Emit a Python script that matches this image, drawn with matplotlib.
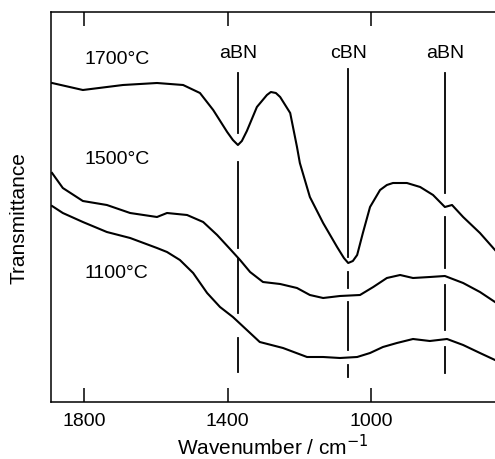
import matplotlib
matplotlib.use("Agg")
import matplotlib.pyplot as plt

plt.rcParams['font.family'] = ['Liberation Sans', 'DejaVu Sans']

# IR spectra of BN films, transmittance in arbitrary units
wn_1700 = [1890, 1804, 1692, 1597, 1524, 1477, 1440, 1401, 1385, 1371, 1360, 1346,
           1318, 1290, 1279, 1265, 1253, 1225, 1206, 1198, 1170, 1133, 1094, 1075,
           1063, 1050, 1038, 1022, 1002, 974, 955, 938, 899, 862, 826, 793, 773,
           742, 695, 653]
t_1700 = [319, 312, 317, 319, 317, 309, 292, 270, 262, 257, 261, 271,
          295, 307, 310, 309, 305, 289, 255, 239, 205, 179, 155, 144,
          139, 141, 147, 169, 195, 212, 217, 219, 219, 215, 207, 195, 197,
          185, 169, 152]

wn_1500 = [1890, 1860, 1804, 1737, 1672, 1597, 1569, 1513, 1468, 1429, 1393, 1365,
           1337, 1301, 1253, 1206, 1170, 1133, 1086, 1030, 993, 955, 918, 882,
           835, 793, 742, 695, 653]
t_1500 = [229, 214, 201, 197, 189, 185, 189, 187, 180, 167, 153, 142,
          130, 120, 118, 114, 107, 104, 106, 107, 115, 124, 127, 124,
          125, 126, 119, 110, 100]

wn_1100 = [1890, 1860, 1804, 1737, 1672, 1597, 1569, 1533, 1496, 1457, 1421, 1385,
           1346, 1310, 1245, 1178, 1133, 1086, 1038, 1002, 966, 927, 882, 835,
           787, 742, 695, 653]
t_1100 = [196, 189, 180, 170, 164, 154, 150, 142, 129, 109, 95, 85,
          72, 60, 54, 45, 45, 44, 45, 49, 55, 59, 63, 61,
          63, 57, 49, 42]

# band positions and the broken dashed marker lines (top, bottom) pieces
band_pos = [1371, 1063, 793]
band_names = ['aBN', 'cBN', 'aBN']
band_pieces = [
    [(329, 269), (240, 154), (144, 89), (64, 30)],
    [(333, 145), (130, 114), (100, 52), (37, 25)],
    [(329, 209), (185, 134), (117, 72), (55, 29)],
]

temps = ['1700°C', '1500°C', '1100°C']
temp_y = [342, 242, 129]

fig = plt.figure(figsize=(4.95, 4.59), dpi=100)
ax = fig.add_axes([51 / 495, 57 / 459, 444 / 495, 390 / 459])

for wn, t in [(wn_1700, t_1700), (wn_1500, t_1500), (wn_1100, t_1100)]:
    ax.plot(wn, t, color='black', lw=1.5, solid_joinstyle='round')

for pos, name, pieces in zip(band_pos, band_names, band_pieces):
    for top, bot in pieces:
        ax.plot([pos, pos], [bot, top], color='black', lw=1.3)
    ax.text(pos, 349, name, ha='center', va='center', fontsize=14)

for lab, y in zip(temps, temp_y):
    ax.text(1800, y, lab, ha='left', va='center', fontsize=14)

ax.set_xlim(1893, 653)
ax.set_ylim(0, 390)
ax.set_xticks([1800, 1400, 1000])
ax.set_yticks([])
ax.tick_params(axis='x', direction='in', length=10, width=1.1, top=True,
               labelsize=14, pad=8)
ax.spines['right'].set_visible(False)
for s in ['left', 'top', 'bottom']:
    ax.spines[s].set_linewidth(1.1)

ax.set_xlabel('Wavenumber / cm$^{-1}$', fontsize=15, labelpad=3)
fig.text(0.038, 0.525, 'Transmittance', rotation=90, ha='center', va='center',
         fontsize=15)

fig.savefig('out.png', dpi=100)
